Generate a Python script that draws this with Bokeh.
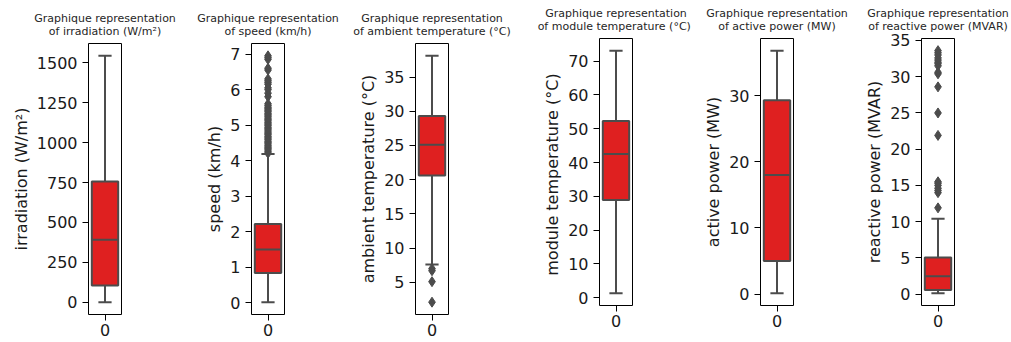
from bokeh.plotting import figure
from bokeh.layouts import row, column
from bokeh.models import Range1d, FixedTicker, Title, Spacer
from bokeh.embed import file_html
from bokeh.resources import INLINE

# ---------------- data ----------------
y_labels = ["irradiation (W/m²)", "speed (km/h)", "ambient temperature (°C)",
            "module temperature  (°C)", "active power (MW)", "reactive power (MVAR)"]
title_line1 = "Graphique representation"
title_line2 = ["of irradiation (W/m²)", "of speed (km/h)", "of ambient temperature (°C)",
               "of module temperature  (°C)", "of active power (MW)", "of reactive power (MVAR)"]
x_category = ["0"]

whisker_low = [0, 0.02, 7.6, 1.3, 0.1, 0.1]
q1 = [104, 0.84, 20.6, 28.9, 5.0, 0.55]
median = [392, 1.5, 25.1, 42.5, 18.0, 2.45]
q3 = [756, 2.22, 29.3, 52.3, 29.3, 5.05]
whisker_high = [1544, 4.19, 38.1, 73.1, 36.8, 10.4]

outliers_irradiation = []
outliers_speed = [4.21, 4.25, 4.3, 4.34, 4.38, 4.42, 4.47, 4.51, 4.55, 4.6, 4.64, 4.68,
                  4.73, 4.77, 4.81, 4.86, 4.9, 4.94, 4.99, 5.03, 5.07, 5.12, 5.16, 5.2,
                  5.25, 5.29, 5.33, 5.38, 5.42, 5.46, 5.5, 5.55, 5.6, 5.8, 5.9, 6.0,
                  6.05, 6.15, 6.2, 6.25, 6.3, 6.55, 6.6, 6.85, 6.9, 6.95]
outliers_ambient = [7.0, 6.7, 5.1, 2.1]
outliers_module = []
outliers_active = []
outliers_reactive = [11.9, 14.0, 14.3, 14.6, 15.0, 15.3, 15.5, 21.9, 25.0, 28.6, 30.4,
                     30.6, 31.5, 31.8, 32.0, 32.3, 32.6, 33.0, 33.3, 33.6]
outliers = [outliers_irradiation, outliers_speed, outliers_ambient,
            outliers_module, outliers_active, outliers_reactive]

y_ticks = [[0, 250, 500, 750, 1000, 1250, 1500],
           [0, 1, 2, 3, 4, 5, 6, 7],
           [5, 10, 15, 20, 25, 30, 35],
           [0, 10, 20, 30, 40, 50, 60, 70],
           [0, 10, 20, 30],
           [0, 5, 10, 15, 20, 25, 30, 35]]

# ---------------- styles / layout ----------------
BOX_FILL = "#df2020"
GRAY = "#4c4c4c"
FONT = "DejaVu Sans"
FRAME_W = 33
TOP_B = 38
BOTTOM_B = 27
left_b = [88, 68, 70, 74, 60, 64]
right_b = [62, 61, 77, 68, 64, 55]
frame_h = [271, 271, 271, 267, 267, 267]
top_space = [5, 5, 5, 0, 0, 0]

cols = []
for i in range(6):
    vals = [whisker_low[i], whisker_high[i]] + outliers[i]
    lo, hi = min(vals), max(vals)
    pad = (hi - lo) * 0.05
    p = figure(title=None, output_backend="svg", toolbar_location=None,
               width=left_b[i] + FRAME_W + right_b[i],
               height=TOP_B + frame_h[i] + BOTTOM_B,
               x_range=Range1d(-0.5, 0.5), y_range=Range1d(lo - pad, hi + pad),
               min_border_left=left_b[i], min_border_right=right_b[i],
               min_border_top=TOP_B, min_border_bottom=BOTTOM_B)
    p.background_fill_color = "white"
    p.border_fill_color = "white"
    p.outline_line_color = "black"
    p.outline_line_width = 1
    p.xgrid.visible = False
    p.ygrid.visible = False

    # box
    p.vbar(x=[0], width=0.8, bottom=[q1[i]], top=[q3[i]],
           fill_color=BOX_FILL, line_color=GRAY, line_width=2)
    # whiskers
    p.segment(x0=[0, 0], y0=[q1[i], q3[i]], x1=[0, 0], y1=[whisker_low[i], whisker_high[i]],
              line_color=GRAY, line_width=2)
    # caps
    p.segment(x0=[-0.2, -0.2], y0=[whisker_low[i], whisker_high[i]],
              x1=[0.2, 0.2], y1=[whisker_low[i], whisker_high[i]],
              line_color=GRAY, line_width=2)
    # median
    p.segment(x0=[-0.4], y0=[median[i]], x1=[0.4], y1=[median[i]],
              line_color=GRAY, line_width=2)
    # outliers
    if outliers[i]:
        p.scatter(x=[0] * len(outliers[i]), y=outliers[i], marker="diamond", size=10,
                  fill_color=GRAY, line_color=GRAY)

    # axes
    for ax in (p.xaxis[0], p.yaxis[0]):
        ax.axis_line_color = None
        ax.major_tick_line_color = "black"
        ax.major_tick_in = 0
        ax.major_tick_out = 6
        ax.minor_tick_line_color = None
        ax.major_label_text_font = FONT
        ax.major_label_text_font_size = "16px"
        ax.major_label_text_color = "#1a1a1a"
    p.xaxis.ticker = FixedTicker(ticks=[0])
    p.xaxis.major_label_overrides = {0: x_category[0]}
    p.xaxis.major_label_standoff = 3
    p.yaxis.ticker = FixedTicker(ticks=y_ticks[i])
    p.yaxis.major_label_standoff = 5
    p.yaxis.axis_label = y_labels[i]
    p.yaxis.axis_label_text_font = FONT
    p.yaxis.axis_label_text_font_size = "16px"
    p.yaxis.axis_label_text_font_style = "normal"
    p.yaxis.axis_label_text_color = "#1a1a1a"
    p.yaxis.axis_label_standoff = 3

    # two-line title (lower line added first, sits next to the frame)
    p.add_layout(Title(text=title_line2[i], align="center", text_font=FONT,
                       text_font_size="11px", text_font_style="normal",
                       text_color="#262626", standoff=12), "above")
    p.add_layout(Title(text=title_line1, align="center", text_font=FONT,
                       text_font_size="11px", text_font_style="normal",
                       text_color="#262626", standoff=-17), "above")
    if top_space[i] > 0:
        cols.append(column(Spacer(height=top_space[i]), p, spacing=0))
    else:
        cols.append(column(p, spacing=0))

layout = row(*cols, spacing=0)
open("out.html", "w").write(file_html(layout, INLINE))
